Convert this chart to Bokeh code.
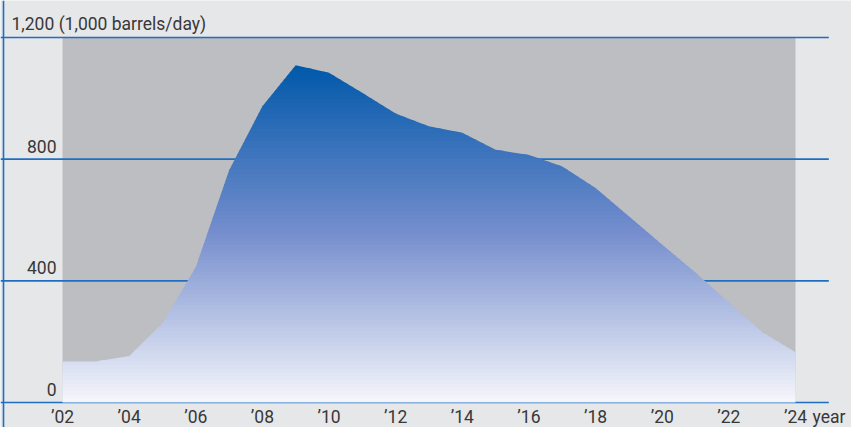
from bokeh.plotting import figure
from bokeh.models import Range1d
from bokeh.core.properties import value
from bokeh.embed import file_html
from bokeh.resources import INLINE

# ---- data ----
years = [2002, 2003, 2004, 2005, 2006, 2007, 2008, 2009, 2010, 2011, 2012, 2013,
         2014, 2015, 2016, 2017, 2018, 2019, 2020, 2021, 2022, 2023, 2024]
production = [135, 135, 152, 260, 445, 763, 974, 1109, 1084, 1018, 950, 908,
              887, 831, 814, 776, 705, 612, 519, 427, 329, 231, 165]
x_ticks = [2002, 2004, 2006, 2008, 2010, 2012, 2014, 2016, 2018, 2020, 2022, 2024]
x_tick_labels = ["\u201902", "\u201904", "\u201906", "\u201908", "\u201910", "\u201912",
                 "\u201914", "\u201916", "\u201918", "\u201920", "\u201922", "\u201924"]
y_ticks = [0, 400, 800]
y_tick_labels = ["0", "400", "800"]
y_top = 1200
y_top_label = "1,200 (1,000 barrels/day)"
x_unit = "year"

# ---- layout ----
W, H = 851, 427
X0, X1 = 2000.139, 2025.681
Y0, Y1 = -82.2, 1321.6

def px_x(px):
    return X0 + px * (X1 - X0) / W

def px_dy(py):
    return py * (Y1 - Y0) / H

BG = "#e6e7e9"
PANEL = "#bdbec1"
GRID = "#1f6ec0"
TEXT = "#383838"
FONT = value("Roboto")
FS = "17.5px"

p = figure(width=W, height=H, output_backend="svg", toolbar_location=None,
           x_range=Range1d(X0, X1), y_range=Range1d(Y0, Y1),
           min_border=0, x_axis_location=None, y_axis_location=None)
p.grid.visible = False
p.background_fill_color = BG
p.border_fill_color = BG
p.outline_line_color = None

# grey panel
p.quad(left=[years[0]], right=[years[-1]], bottom=[0], top=[y_top],
       fill_color=PANEL, line_color=None)

# gridlines
grid_vals = y_ticks + [y_top]
p.segment(x0=[X0] * len(grid_vals), x1=[2025.0] * len(grid_vals),
          y0=grid_vals, y1=grid_vals, line_color=GRID, line_width=1.6)
# left vertical line
p.segment(x0=[px_x(3)], x1=[px_x(3)], y0=[Y0], y1=[Y1], line_color=GRID, line_width=1.6)

# gradient area via horizontal bands (polygon clipping)
poly = [(years[0], 0.0)] + list(zip(years, production)) + [(years[-1], 0.0)]

def clip(pts, yv, keep_above):
    out = []
    n = len(pts)
    for i in range(n):
        a = pts[i]
        b = pts[(i + 1) % n]
        ina = a[1] >= yv if keep_above else a[1] <= yv
        inb = b[1] >= yv if keep_above else b[1] <= yv
        if ina:
            out.append(a)
        if ina != inb:
            t = (yv - a[1]) / (b[1] - a[1])
            out.append((a[0] + t * (b[0] - a[0]), yv))
    return out

stops = [(0.0, (246, 247, 252)), (0.5, (118, 142, 205)), (1.0, (0, 88, 170))]

def grad(f):
    for (f0, c0), (f1, c1) in zip(stops[:-1], stops[1:]):
        if f0 <= f <= f1:
            t = (f - f0) / (f1 - f0)
            c = tuple(int(round(c0[k] + t * (c1[k] - c0[k]))) for k in range(3))
            return "#%02x%02x%02x" % c
    return "#%02x%02x%02x" % stops[-1][1]

top = max(production)
nb = 90
xs, ys, cols = [], [], []
for i in range(nb):
    lo = top * i / nb
    hi = top * (i + 1) / nb + 3
    pts = clip(clip(poly, lo, True), hi, False)
    if len(pts) < 3:
        continue
    xs.append([q[0] for q in pts])
    ys.append([q[1] for q in pts])
    cols.append(grad((i + 0.5) / nb))
p.patches(xs=xs, ys=ys, fill_color=cols, line_color=None)

# y labels
p.text(x=[px_x(56)] * len(y_ticks), y=[v + px_dy(13) for v in y_ticks], text=y_tick_labels,
       text_align="right", text_baseline="alphabetic", text_font=FONT,
       text_font_size=FS, text_color=TEXT)
p.text(x=[px_x(11)], y=[y_top + px_dy(13)], text=[y_top_label],
       text_align="left", text_baseline="alphabetic", text_font=FONT,
       text_font_size=FS, text_color=TEXT)

# x labels
p.text(x=x_ticks, y=[-px_dy(15)] * len(x_ticks), text=x_tick_labels,
       text_align="center", text_baseline="alphabetic", text_font=FONT,
       text_font_size=FS, text_color=TEXT)
p.text(x=[x_ticks[-1] + px_x(17) - X0], y=[-px_dy(15)], text=[x_unit],
       text_align="left", text_baseline="alphabetic", text_font=FONT,
       text_font_size=FS, text_color=TEXT)

open("out.html", "w").write(file_html(p, INLINE))
